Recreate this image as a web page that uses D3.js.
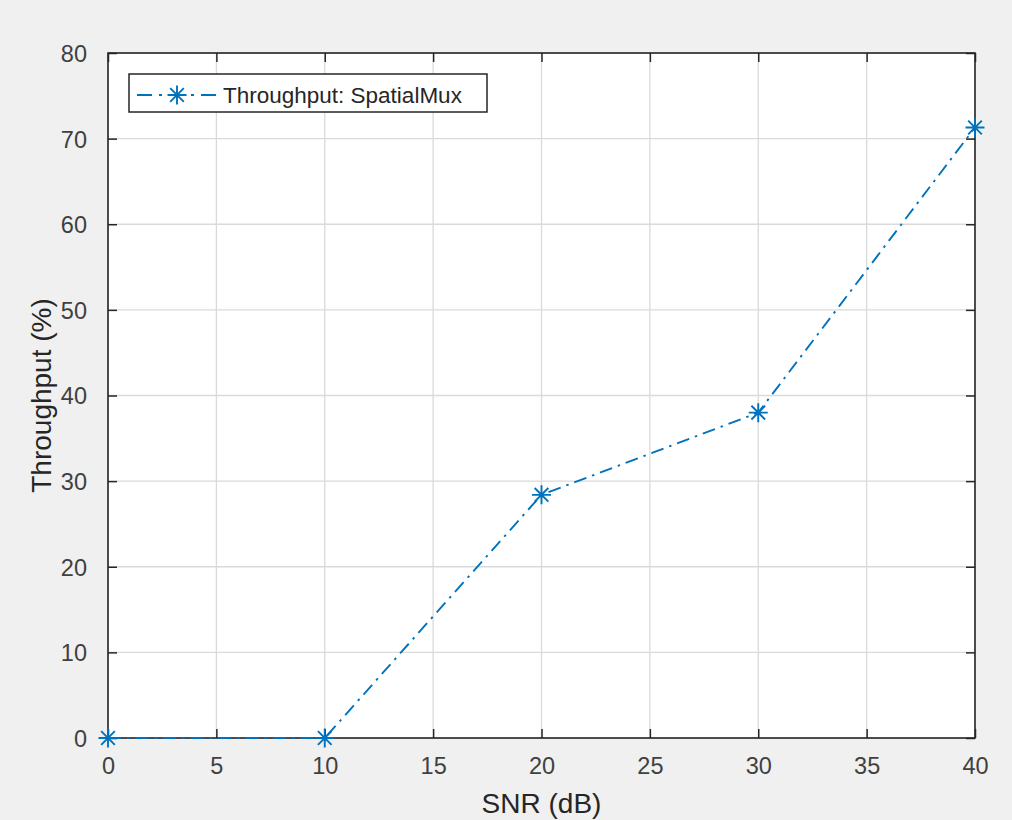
<!DOCTYPE html>
<html>
<head>
<meta charset="utf-8">
<script src="https://cdn.jsdelivr.net/npm/d3@7"></script>
<style>
  body { margin: 0; background: #f0f0f0; }
  svg { display: block; font-family: "Liberation Sans", Arial, sans-serif; }
  .tick text { fill: #404040; }
</style>
</head>
<body>
<script>
// data
var snr = [0, 10, 20, 30, 40];
var throughput = [0, 0, 28.4, 38.0, 71.3];
var xTicks = [0, 5, 10, 15, 20, 25, 30, 35, 40];
var yTicks = [0, 10, 20, 30, 40, 50, 60, 70, 80];
var seriesName = "Throughput: SpatialMux";

var W = 1012, H = 820;
var margin = {left: 108, right: 37, top: 53, bottom: 82},
    width = W - margin.left - margin.right,
    height = H - margin.top - margin.bottom;

var lineColor = "#0072bd";
var axisColor = "#262626";

var svg = d3.select("body").append("svg")
    .attr("width", W)
    .attr("height", H);

var g = svg.append("g")
    .attr("transform", "translate(" + margin.left + "," + margin.top + ")");

var xScale = d3.scaleLinear().domain([0, 40]).range([0, width]);
var yScale = d3.scaleLinear().domain([0, 80]).range([height, 0]);

// plot area
g.append("rect")
    .attr("width", width)
    .attr("height", height)
    .attr("fill", "#fff");

// grid
g.append("g").selectAll("line")
    .data(xTicks)
    .enter().append("line")
    .attr("x1", function(d) { return xScale(d); })
    .attr("x2", function(d) { return xScale(d); })
    .attr("y1", 0).attr("y2", height)
    .attr("stroke", "#dadada").attr("stroke-width", 1.3);

g.append("g").selectAll("line")
    .data(yTicks)
    .enter().append("line")
    .attr("y1", function(d) { return yScale(d); })
    .attr("y2", function(d) { return yScale(d); })
    .attr("x1", 0).attr("x2", width)
    .attr("stroke", "#dadada").attr("stroke-width", 1.3);

// axes (ticks point inward, on all four sides)
var tickLen = 9;
var xAxis = d3.axisBottom(xScale).tickValues(xTicks).tickSize(-tickLen).tickPadding(tickLen + 10).tickSizeOuter(0);
var yAxis = d3.axisLeft(yScale).tickValues(yTicks).tickSize(-tickLen).tickPadding(tickLen + 12).tickSizeOuter(0);

var gx = g.append("g")
    .attr("transform", "translate(0," + height + ")")
    .call(xAxis);
var gy = g.append("g").call(yAxis);

g.append("g").call(d3.axisTop(xScale).tickValues(xTicks).tickSize(-tickLen).tickFormat("").tickSizeOuter(0));
g.append("g").attr("transform", "translate(" + width + ",0)")
    .call(d3.axisRight(yScale).tickValues(yTicks).tickSize(-tickLen).tickFormat("").tickSizeOuter(0));

g.selectAll(".domain").remove();
g.selectAll(".tick line").attr("stroke", axisColor).attr("stroke-width", 1.5);
g.selectAll(".tick text").attr("font-size", "23.5px").style("font-family", "'Liberation Sans', Arial, sans-serif");
gy.selectAll(".tick text").attr("dy", "0.36em");

// box
g.append("rect")
    .attr("width", width)
    .attr("height", height)
    .attr("fill", "none")
    .attr("stroke", axisColor)
    .attr("stroke-width", 1.6);

// axis labels
svg.append("text")
    .attr("x", margin.left + width / 2)
    .attr("y", 813)
    .attr("text-anchor", "middle")
    .attr("font-size", "28px")
    .attr("fill", "#262626")
    .text("SNR (dB)");

svg.append("text")
    .attr("transform", "translate(51," + (margin.top + height / 2) + ") rotate(-90)")
    .attr("text-anchor", "middle")
    .attr("font-size", "28px")
    .attr("fill", "#262626")
    .text("Throughput (%)");

// series line
var line = d3.line()
    .x(function(d, i) { return xScale(snr[i]); })
    .y(function(d) { return yScale(d); });

g.append("path")
    .datum(throughput)
    .attr("d", line)
    .attr("fill", "none")
    .attr("stroke", lineColor)
    .attr("stroke-width", 1.9)
    .attr("stroke-dasharray", "13,6,2.5,6");

function star(sel, r) {
    var d = "M" + (-r) + ",0H" + r + "M0," + (-r) + "V" + r;
    var k = r * 0.72;
    d += "M" + (-k) + "," + (-k) + "L" + k + "," + k + "M" + (-k) + "," + k + "L" + k + "," + (-k);
    sel.append("path").attr("d", d)
        .attr("stroke", lineColor)
        .attr("stroke-width", 1.9)
        .attr("fill", "none");
}

g.selectAll(".pt")
    .data(throughput)
    .enter().append("g")
    .attr("class", "pt")
    .attr("transform", function(d, i) { return "translate(" + xScale(snr[i]) + "," + yScale(d) + ")"; })
    .each(function() { star(d3.select(this), 9.5); });

// legend
var lg = svg.append("g").attr("transform", "translate(129,74)");
lg.append("rect")
    .attr("width", 358)
    .attr("height", 38)
    .attr("fill", "#fff")
    .attr("stroke", axisColor)
    .attr("stroke-width", 1.5);
lg.append("line")
    .attr("x1", 8).attr("x2", 88)
    .attr("y1", 21).attr("y2", 21)
    .attr("stroke", lineColor)
    .attr("stroke-width", 1.9)
    .attr("stroke-dasharray", "15,7,3,7");
star(lg.append("g").attr("transform", "translate(48,21)"), 9.5);
lg.append("text")
    .attr("x", 94)
    .attr("y", 29)
    .attr("font-size", "22.5px")
    .attr("fill", "#262626")
    .text(seriesName);
</script>
</body>
</html>
